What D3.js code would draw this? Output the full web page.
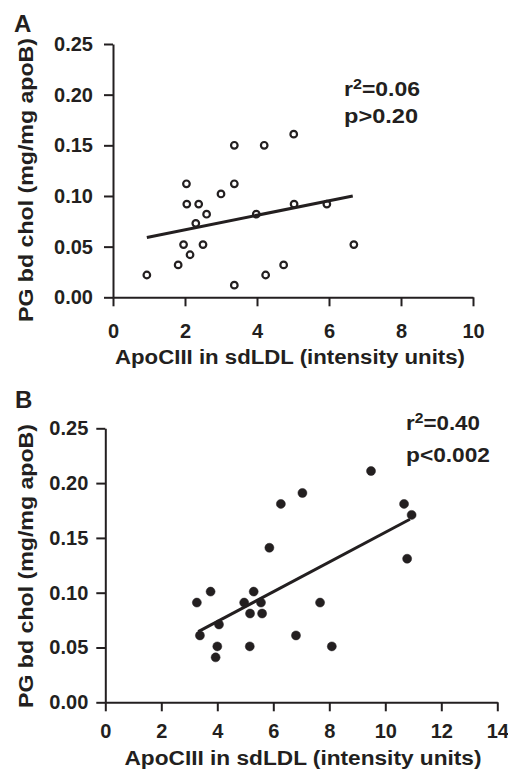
<!DOCTYPE html>
<html>
<head>
<meta charset="utf-8">
<script src="https://cdn.jsdelivr.net/npm/d3@7"></script>
<style>
  html,body{margin:0;padding:0;background:#fff;}
  svg{display:block;}
  text{font-family:"Liberation Sans",Arial,sans-serif;font-weight:bold;fill:#231f20;}
</style>
</head>
<body>
<div id="chart"></div>
<script>
// tick labels
var yTicks=[0,0.05,0.10,0.15,0.20,0.25];
var xTicksA=[0,2,4,6,8,10];
var xTicksB=[0,2,4,6,8,10,12,14];

// panel A: open circles
var apoA=[0.94,1.81,1.96,2.14,2.04,2.05,2.38,2.30,2.50,2.60,3.00,3.37,3.37,3.37,3.98,4.20,4.24,4.74,5.02,5.03,5.94,6.69];
var pgA =[0.022,0.032,0.052,0.042,0.112,0.092,0.092,0.073,0.052,0.082,0.102,0.112,0.150,0.012,0.082,0.150,0.022,0.032,0.161,0.092,0.092,0.052];
var fitAx=[0.94,6.66], fitAy=[0.059,0.100];
var statA={r2:"0.06",p:"p>0.20"};

// panel B: filled circles
var apoB=[9.49,6.27,7.04,10.67,10.94,5.86,10.78,3.27,3.76,3.38,4.06,4.00,3.94,4.96,5.30,5.17,5.56,5.60,5.16,6.81,7.67,8.09];
var pgB =[0.211,0.181,0.191,0.181,0.171,0.141,0.131,0.091,0.101,0.061,0.071,0.051,0.041,0.091,0.101,0.081,0.091,0.081,0.051,0.061,0.091,0.051];
var fitBx=[3.32,10.88], fitBy=[0.0645,0.167];
var statB={r2:"0.40",p:"p<0.002"};

var xTitle="ApoCIII in sdLDL (intensity units)";
var yTitle="PG bd chol (mg/mg apoB)";
var ink="#231f20";

var W=508,H=769;
var svg=d3.select("#chart").append("svg").attr("width",W).attr("height",H);
svg.append("rect").attr("width",W).attr("height",H).attr("fill","#fff");

function drawPanel(o){
    var x=d3.scaleLinear().domain([0,o.xMax]).range(o.xr);
    var y=d3.scaleLinear().domain([0,0.25]).range(o.yr);
    var g=svg.append("g");

    var ya=g.append("g").attr("transform","translate("+o.xr[0]+",0)")
        .call(d3.axisLeft(y).tickValues(yTicks).tickFormat(d3.format(".2f")).tickSize(9).tickSizeOuter(0).tickPadding(o.yPad));
    var xa=g.append("g").attr("transform","translate(0,"+o.yr[0]+")")
        .call(d3.axisBottom(x).tickValues(o.xTicks).tickFormat(d3.format("d")).tickSize(9).tickSizeOuter(0).tickPadding(o.xPad));
    [ya,xa].forEach(function(a){
        a.selectAll("path,line").attr("stroke",ink).attr("stroke-width",2);
        a.selectAll("text").attr("fill",ink).style("font-size","20px").style("font-family",null);
    });

    // regression line
    g.append("line").attr("x1",x(o.fx[0])).attr("y1",y(o.fy[0])).attr("x2",x(o.fx[1])).attr("y2",y(o.fy[1]))
        .attr("stroke",ink).attr("stroke-width",3);

    // points
    g.selectAll("circle.pt").data(o.xs).enter().append("circle").attr("class","pt")
        .attr("cx",function(d){return x(d);}).attr("cy",function(d,i){return y(o.ys[i]);})
        .attr("r",o.filled?4.5:3.3)
        .attr("fill",o.filled?ink:"none").attr("stroke",ink).attr("stroke-width",o.filled?0.5:2.2);

    // panel letter
    g.append("text").attr("x",o.letterX).attr("y",o.letterY).style("font-size","24px").text(o.letter);

    // axis titles
    g.append("text").attr("x",o.xtX).attr("y",o.xtY).attr("text-anchor","middle").style("font-size","20px")
        .attr("textLength",o.xtLen).attr("lengthAdjust","spacingAndGlyphs").text(xTitle);
    g.append("text").attr("transform","translate(33,"+o.ytY+") rotate(-90)").attr("text-anchor","middle").style("font-size","20px")
        .attr("textLength",284).attr("lengthAdjust","spacingAndGlyphs").text(yTitle);

    // stats
    var t=g.append("text").attr("x",o.sx).attr("y",o.sy1).style("font-size","20px")
        .attr("textLength",o.rLen).attr("lengthAdjust","spacingAndGlyphs");
    t.append("tspan").text("r");
    t.append("tspan").attr("dy",-7).style("font-size","14px").text("2");
    t.append("tspan").attr("dy",7).text("="+o.stat.r2);
    g.append("text").attr("x",o.sx).attr("y",o.sy2).style("font-size","20px")
        .attr("textLength",o.pLen).attr("lengthAdjust","spacingAndGlyphs").text(o.stat.p);
}

drawPanel({xMax:10,xTicks:xTicksA,xr:[113,473],yr:[297.3,44],xs:apoA,ys:pgA,fx:fitAx,fy:fitAy,filled:false,
    yPad:11,xPad:18,letter:"A",letterX:14,letterY:32,xtX:290,xtY:364,xtLen:350,ytY:180,
    stat:statA,sx:344,sy1:96,sy2:123,rLen:76,pLen:74});
drawPanel({xMax:14,xTicks:xTicksB,xr:[105.3,497.3],yr:[702.3,428.3],xs:apoB,ys:pgB,fx:fitBx,fy:fitBy,filled:true,
    yPad:8,xPad:13,letter:"B",letterX:15,letterY:408,xtX:303,xtY:765,xtLen:357,ytY:566,
    stat:statB,sx:406,sy1:430,sy2:462,rLen:74,pLen:84});
</script>
</body>
</html>
